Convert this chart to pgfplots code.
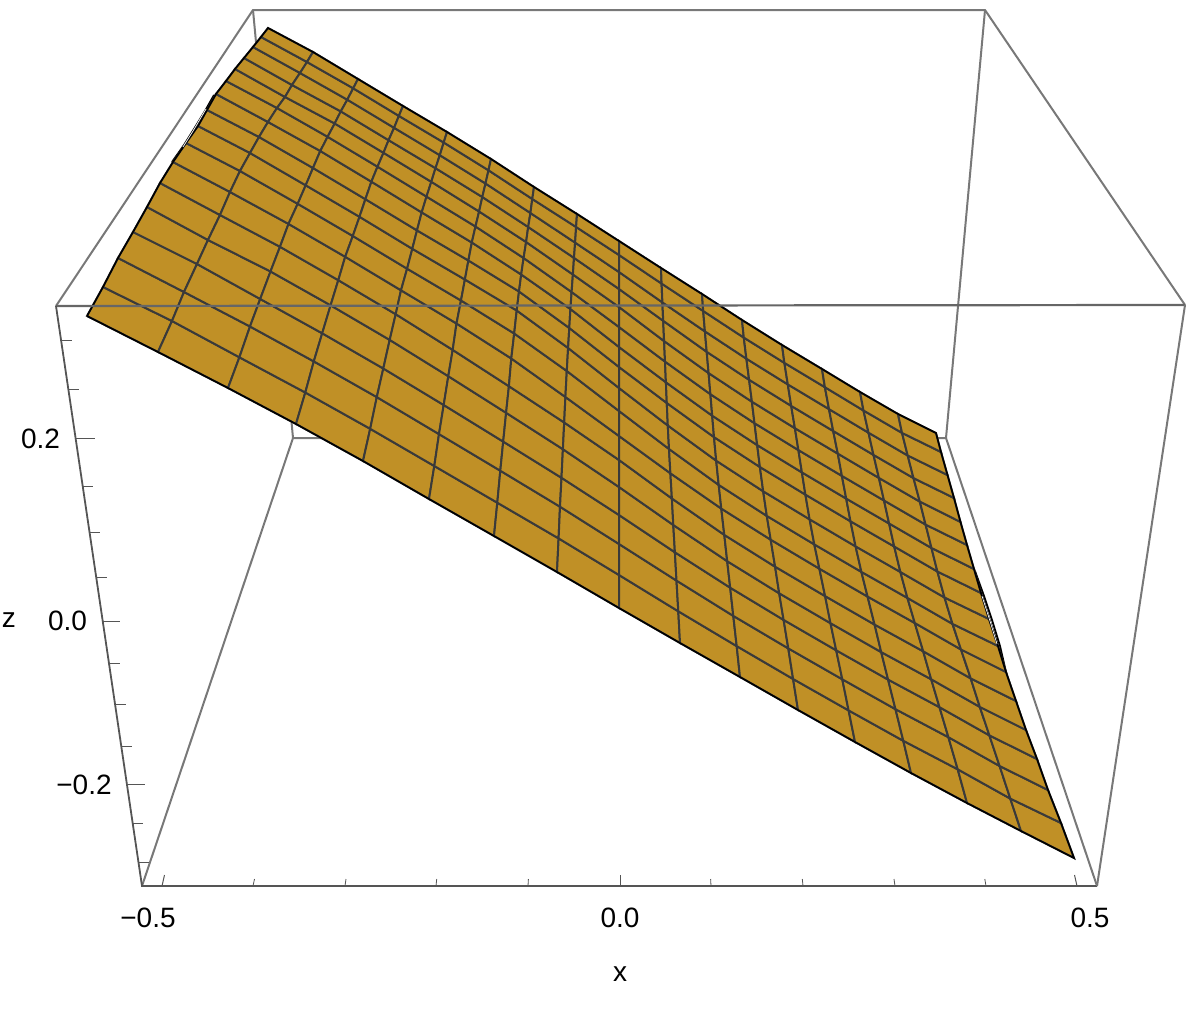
\documentclass[border=0pt]{standalone}
\usepackage{fontspec}
\setmainfont{Liberation Sans}
\usepackage{pgfplots}
\pgfplotsset{compat=1.18}
\definecolor{boxgray}{RGB}{120,120,120}
\definecolor{axgray}{RGB}{85,85,85}
\definecolor{meshgray}{RGB}{58,58,58}
\newcommand{\lab}{\fontsize{14}{14}\selectfont}
\begin{document}
\begin{tikzpicture}
\path[use as bounding box] (0,0) rectangle (597pt,506pt);
% 2D axis in picture pixels: the perspective box has no pgfplots equivalent
\begin{axis}[
    at={(0,0)},
    anchor=south west,
    scale only axis,
    width=597pt,
    height=506pt,
    xmin=0, xmax=1194,
    ymin=0, ymax=1012,
    y dir=reverse,
    hide axis,
    clip=false,
    colormap={gold}{rgb255=(192,144,38) rgb255=(192,144,38)},
    point meta min=0,
    point meta max=1,
]
% back of the box
\addplot[boxgray, line width=1pt, no marks] coordinates {(56,306) (253,10) (985,10) (1185,305)};
\addplot[boxgray, line width=1pt, no marks] coordinates {(253,10) (293,438) (946,438) (985,10)};
\addplot[boxgray, line width=1pt, no marks] coordinates {(142,886) (293,438)};
\addplot[boxgray, line width=1pt, no marks] coordinates {(1097,886) (946,438)};

% fold slivers along the side edges
\addplot[black, line width=0.9pt, no marks] coordinates {(172,162) (184,145) (194,129) (205,111) (214,95)};
\addplot[black, line width=0.9pt, no marks] coordinates {(975,571) (984,596) (992,620) (1000,646) (1006,672)};

% surface, one row of 17 points per mesh line from front edge to back edge
\addplot[surf, shader=faceted, faceted color=meshgray, line width=1pt,
    mesh/rows=17, mesh/cols=17, point meta=0] coordinates {
(87,316) (103,287) (118,258) (133,232) (147,207) (160,183) (173,162) (186,143) (198,126) (207,110) (216,94) (226,81) (235,69) (244,58) (253,47) (261,37) (268,28)

(158,352) (172,321) (184,292) (197,264) (208,240) (220,215) (230,192) (240,171) (250,153) (259,137) (268,122) (277,108) (285,97) (292,85) (300,73) (307,62) (313,52)

(228,388) (239.4,357.3) (250,326.5) (260.2,299) (270.5,271.5) (280,246.8) (288.5,223.9) (297.7,203.8) (305.7,185.3) (313,168) (320.3,151) (327.6,136.8) (334.7,123.5) (340.8,111.4) (347.3,99.7) (353.2,88.3) (358,79)

(296,424) (305.3,392.5) (313.8,361.4) (322.2,333.3) (330.6,305.3) (338.3,280.2) (345.2,256.8) (352.8,236) (359.5,216.8) (365.4,199.2) (371.4,181.7) (377.5,166.7) (383.5,152.8) (388.6,140.2) (394.1,127.8) (398.9,115.9) (403,106)

(363,461) (370.2,428.8) (376.8,397.1) (383.3,368.5) (389.7,339.9) (395.7,314.2) (401,290.3) (407.1,268.7) (412.3,248.8) (417,230.4) (421.7,212.4) (426.5,196.6) (431.3,181.8) (435.5,168.2) (439.8,155.2) (443.7,142.5) (447,132)

(429,499) (434.3,466) (439,434.1) (443.7,405) (448.3,376.2) (452.7,349.9) (456.5,323.5) (461,300.5) (464.9,279.5) (468.4,260.5) (471.8,242.5) (475.5,226.5) (479.1,211.5) (482.3,197) (485.5,183.5) (488.5,170.3) (491,159)

(494,536) (497.3,502.7) (500.3,470.7) (503.2,441.6) (506.1,412.8) (508.9,386.2) (511.3,358.5) (514.2,333.5) (516.7,310.5) (519,291.5) (521.2,274.5) (523.6,258) (526.1,242) (528.2,227) (530.4,213) (532.3,199) (534,187)

(557,572) (558.6,538.4) (560,506.7) (561.5,477.8) (562.9,449.2) (564.2,422.5) (565.4,397) (566.8,371) (568.1,348) (569.3,328) (570.4,309) (571.6,292) (572.9,274.5) (574,257.9) (575.1,242.6) (576.1,227) (577,214)

(619,608) (619,575) (619,544) (619,515) (619,487) (619,460) (619,436) (619,411) (619,388) (619,367) (619,347) (619,327) (619,307) (619,289) (619,272) (619,255) (619,241)

(680,643) (678.3,611.3) (676.5,580.6) (674.9,552.3) (673.3,525) (671.9,498.5) (670.4,473.3) (669,449) (667.8,425.5) (666.8,403) (665.9,382.3) (665,361.6) (664.1,341.1) (663.2,320.8) (662.4,302.4) (661.6,283.6) (661,268)

(740,677) (736.7,646.1) (733.3,615.9) (730.2,587.7) (727.2,561.2) (724.3,534.9) (721.3,508.6) (718.7,484.9) (716.2,460.7) (714,437.1) (712.2,415.7) (710.4,394.2) (708.6,373.1) (706.7,351.8) (704.9,331.4) (703.2,311) (702,294)

(798,710) (793.1,679) (788.3,648.4) (783.6,619.9) (779.2,593.3) (775.1,566.7) (770.7,539.7) (766.8,515.9) (763.2,491.3) (759.9,467) (757.2,445.1) (754.5,423.2) (751.9,401.7) (749.1,379.8) (746.4,358.7) (743.8,337.6) (742,320)

(855,742) (848.6,710.4) (842.3,679.3) (836.2,650.3) (830.5,623.2) (825.1,596.1) (819.4,568.7) (814.3,544.4) (809.6,519.3) (805.4,494.6) (801.9,472.4) (798.4,450.1) (794.9,428.2) (791.2,405.9) (787.8,384.4) (784.4,362.9) (782,345)

(911,773) (903.3,740.8) (895.5,709.2) (888.1,679.6) (881.2,652.1) (874.6,624.6) (867.6,596.6) (861.4,571.9) (855.6,546.4) (850.5,521.3) (846.2,498.6) (841.9,475.9) (837.8,453.6) (833.2,431) (829,409.1) (824.9,387.2) (822,369)

(967,803) (957.7,769.3) (948.4,737.2) (939.5,707.2) (931.2,679.3) (923.2,651.3) (914.8,623) (907.4,597.9) (900.4,572) (894.2,546.5) (889.1,523.5) (884,500.5) (878.9,477.9) (873.5,454.9) (868.5,432.7) (863.5,410.5) (860,392)

(1021,831) (1010.3,798.6) (999.6,766) (989.4,735.4) (979.8,706.9) (970.7,678.4) (961,649.5) (952.5,623.9) (944.5,597.5) (937.4,571.5) (931.5,548) (925.6,524.6) (919.8,501.6) (913.5,478.1) (907.7,455.5) (902,432.9) (898,414)

(1074,858) (1061,823) (1048,790) (1037,759) (1026,730) (1016,701) (1006,672) (998,646) (989,619) (981,593) (974,569) (967,545) (960.5,522) (954,498) (947.5,475) (941,452) (936,433)
};

% outline of the surface
\addplot[black, line width=0.8pt, no marks] coordinates {
(87,316) (158,352) (228,388) (296,424) (363,461) (429,499) (494,536) (557,572) (619,608) (680,643) (740,677) (798,710) (855,742) (911,773) (967,803) (1021,831) (1074,858)
(1061,823) (1048,790) (1037,759) (1026,730) (1016,701) (1006,672) (998,646) (989,619) (981,593) (974,569) (967,545) (960.5,522) (954,498) (947.5,475) (941,452) (936,433)
(898,414) (860,392) (822,369) (782,345) (742,320) (702,294) (661,268) (619,241) (577,214) (534,187) (491,159) (447,132) (403,106) (358,79) (313,52) (268,28)
(261,37) (253,47) (244,58) (235,69) (226,81) (216,94) (207,110) (198,126) (186,143) (173,162) (160,183) (147,207) (133,232) (118,258) (103,287) (87,316)
};
\addplot[white, line width=0.35pt, no marks] coordinates {(183,147) (193,131) (206,109)};
\addplot[white, line width=0.35pt, no marks] coordinates {(982,596) (990,621) (997,644)};

% front of the box, over the surface
\addplot[boxgray!85!black, line width=1.1pt, no marks] coordinates {(56,306) (1185,305)};
\addplot[axgray, line width=0.9pt, no marks] coordinates {(56,306) (142,886) (1097,886)};
\addplot[boxgray, line width=1pt, no marks] coordinates {(1185,305) (1097,886)};

% z ticks
\addplot[axgray, line width=0.4pt, no marks] coordinates {(61,340) (72,340)};
\addplot[axgray, line width=0.4pt, no marks] coordinates {(68.3,389) (79,389)};
\addplot[axgray, line width=0.5pt, no marks] coordinates {(75.6,438) (95,438)};
\addplot[axgray, line width=0.4pt, no marks] coordinates {(82.7,486) (93,486)};
\addplot[axgray, line width=0.4pt, no marks] coordinates {(89.5,532) (100,532)};
\addplot[axgray, line width=0.4pt, no marks] coordinates {(96.2,577) (107,577)};
\addplot[axgray, line width=0.5pt, no marks] coordinates {(102.7,621) (120,621)};
\addplot[axgray, line width=0.4pt, no marks] coordinates {(109,663) (120,663)};
\addplot[axgray, line width=0.4pt, no marks] coordinates {(115,704) (126,704)};
\addplot[axgray, line width=0.4pt, no marks] coordinates {(121.2,746) (132,746)};
\addplot[axgray, line width=0.5pt, no marks] coordinates {(126.9,784) (145,784)};
\addplot[axgray, line width=0.4pt, no marks] coordinates {(132.7,823) (143,823)};
\addplot[axgray, line width=0.4pt, no marks] coordinates {(138.4,862) (149,862)};

% x ticks
\addplot[axgray, line width=0.5pt, no marks] coordinates {(162,886) (164.5,875)};
\addplot[axgray, line width=0.4pt, no marks] coordinates {(253,886) (254.5,879)};
\addplot[axgray, line width=0.4pt, no marks] coordinates {(345,886) (346,879)};
\addplot[axgray, line width=0.4pt, no marks] coordinates {(436,886) (436.7,879)};
\addplot[axgray, line width=0.4pt, no marks] coordinates {(528,886) (528.4,879)};
\addplot[axgray, line width=0.5pt, no marks] coordinates {(620,886) (620,875)};
\addplot[axgray, line width=0.4pt, no marks] coordinates {(711,886) (710.6,879)};
\addplot[axgray, line width=0.4pt, no marks] coordinates {(803,886) (802.3,879)};
\addplot[axgray, line width=0.4pt, no marks] coordinates {(895,886) (894,879)};
\addplot[axgray, line width=0.4pt, no marks] coordinates {(986,886) (984.8,879)};
\addplot[axgray, line width=0.5pt, no marks] coordinates {(1077,886) (1074.5,875)};

% labels
\node[font=\lab] at (axis cs:148,918) {−0.5};
\node[font=\lab] at (axis cs:620,918) {0.0};
\node[font=\lab] at (axis cs:1090,918) {0.5};
\node[font=\lab] at (axis cs:620,974) {x};
\node[font=\lab] at (axis cs:40.5,439) {0.2};
\node[font=\lab] at (axis cs:67.5,621) {0.0};
\node[font=\lab] at (axis cs:84,785) {−0.2};
\node[font=\lab] at (axis cs:9,620) {z};
\end{axis}
\end{tikzpicture}
\end{document}
